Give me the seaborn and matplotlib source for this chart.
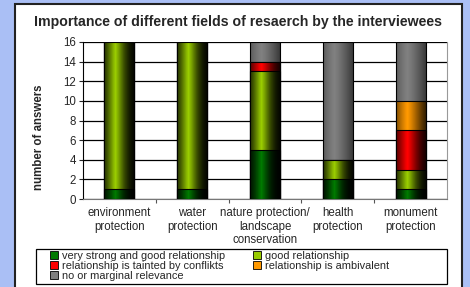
import numpy as np
import pandas as pd
import matplotlib
matplotlib.use("Agg")
import matplotlib.pyplot as plt
import seaborn as sb
from matplotlib.patches import Rectangle

# data
fields = ["environment\nprotection", "water\nprotection",
          "nature protection/\nlandscape\nconservation",
          "health\nprotection", "monument\nprotection"]
very_strong = [1, 1, 5, 2, 1]
good = [15, 15, 8, 2, 2]
conflicts = [0, 0, 1, 0, 4]
ambivalent = [0, 0, 0, 0, 3]
marginal = [0, 0, 2, 12, 6]

labels = ["very strong and good relationship", "good relationship",
          "relationship is tainted by conflikts", "relationship is ambivalent",
          "no or marginal relevance"]
colors = ["#007a00", "#99cc00", "#ff0000", "#ff9900", "#808080"]

sb.set_style("white")
plt.rcParams['font.family'] = ['Liberation Sans', 'DejaVu Sans']

W, H = 470, 287
fig = plt.figure(figsize=(W/100, H/100), dpi=100)
fig.patch.set_facecolor("#aabff5")

def fx(px): return px/W
def fy(py): return 1 - py/H

# white panel
fig.patches.append(Rectangle((fx(15), fy(290)), fx(447), (290-4)/H,
                             transform=fig.transFigure, facecolor="white",
                             edgecolor="#222222", linewidth=1.5, zorder=-5))

ax = fig.add_axes([fx(83), fy(199), fx(447-83), (199-42)/H])
ax.set_facecolor("white")

series = [very_strong, good, conflicts, ambivalent, marginal]
cum = np.cumsum(np.array(series), axis=0)
df = pd.DataFrame({"field": fields})
# draw from top layer down so each lower layer overlays the one above
for i in range(len(series)-1, -1, -1):
    df["v"] = cum[i]
    sb.barplot(data=df, x="field", y="v", color=colors[i], width=0.41,
               edgecolor="black", linewidth=0.8, saturation=1, ax=ax, zorder=3)

# cylinder-like shading
t = np.linspace(0, 1, 64)
alpha = np.clip(np.abs(t - 0.38) / 0.62, 0, 1) ** 1.3 * 0.55
shade = np.zeros((1, 64, 4))
shade[..., 3] = alpha
for p in list(ax.patches):
    x0, y0 = p.get_x(), p.get_y()
    w, h = p.get_width(), p.get_height()
    if h <= 0:
        continue
    im = ax.imshow(shade, extent=(x0, x0+w, y0, y0+h), aspect="auto",
                   zorder=3.5, interpolation="bilinear")
    im.set_clip_path(p)

ax.set_xlim(-0.5, 4.5)
ax.set_ylim(0, 16)
ax.set_yticks(range(0, 17, 2))
ax.set_xticks(np.arange(0.5, 4.5, 1), minor=True)
ax.yaxis.grid(True, color="black", linewidth=0.9)
ax.set_axisbelow(True)
ax.spines["top"].set_visible(False)
ax.spines["right"].set_color("#999999")
ax.spines["left"].set_color("black")
ax.spines["bottom"].set_color("#777777")
ax.tick_params(axis="y", labelsize=8.3, length=3, width=0.8, left=True, pad=2)
ax.tick_params(axis="x", which="major", labelsize=8.3, length=0, pad=6)
ax.tick_params(axis="x", which="minor", length=3, width=0.8, bottom=True,
               color="#555555")
ax.set_xlabel("")
ax.set_ylabel("")
for lbl in ax.get_xticklabels():
    lbl.set_linespacing(1.15)

fig.text(fx(238), fy(22), "Importance of different fields of resaerch by the interviewees",
         ha="center", va="center", fontsize=10.2, fontweight="bold")
fig.text(fx(39), fy(137), "number of answers", rotation=90, ha="center", va="center",
         fontsize=8.3, fontweight="bold")

# legend box
fig.patches.append(Rectangle((fx(36), fy(284)), fx(411), (284-249)/H,
                             transform=fig.transFigure, facecolor="white",
                             edgecolor="black", linewidth=0.9, zorder=1))
handles = [Rectangle((0, 0), 1, 1, facecolor=c, edgecolor="black", linewidth=0.6)
           for c in colors]
order = [0, 2, 4, 1, 3]
leg = fig.legend([handles[i] for i in order], [labels[i] for i in order],
                 ncol=2, loc="upper left", bbox_to_anchor=(fx(50), fy(251)),
                 fontsize=7.9, frameon=False, borderpad=0,
                 handlelength=0.7, handleheight=0.7, handletextpad=0.35,
                 labelspacing=-0.02, columnspacing=2.6, borderaxespad=0)
leg.set_zorder(2)

fig.savefig("out.png", dpi=100, facecolor=fig.get_facecolor())
